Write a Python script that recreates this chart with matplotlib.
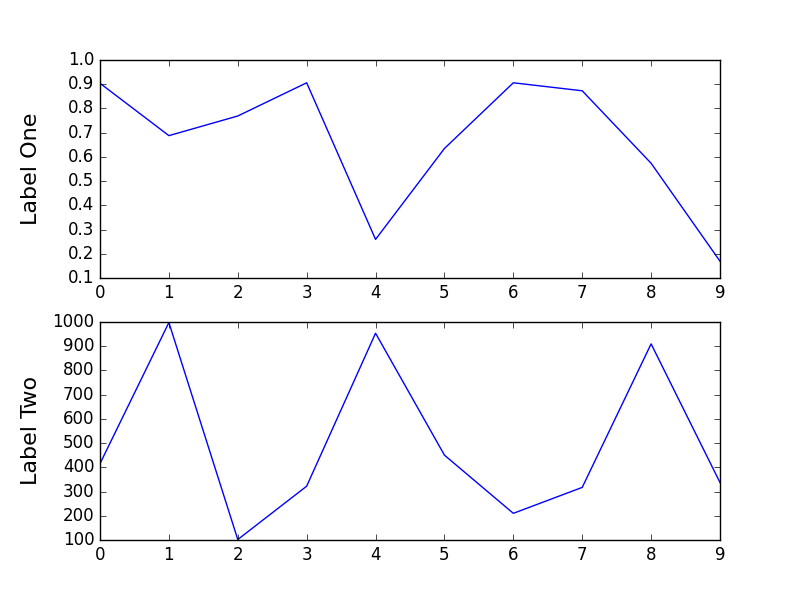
import matplotlib
matplotlib.use("Agg")
import matplotlib.pyplot as plt

plt.style.use("classic")

x = list(range(10))
series_one = [0.904, 0.688, 0.769, 0.906, 0.260, 0.635, 0.906, 0.873, 0.574, 0.170]
series_two = [415, 997, 102, 322, 953, 450, 210, 317, 909, 337]

fig, (ax1, ax2) = plt.subplots(2, 1, figsize=(8, 6), dpi=100)

ax1.plot(x, series_one, color="blue")
ax1.set_xlim(0, 9)
ax1.set_ylim(0.1, 1.0)
ax1.set_ylabel("Label One", fontsize=16)
ax1.yaxis.set_label_coords(-0.095, 0.5)

ax2.plot(x, series_two, color="blue")
ax2.set_xlim(0, 9)
ax2.set_ylim(100, 1000)
ax2.set_ylabel("Label Two", fontsize=16)
ax2.yaxis.set_label_coords(-0.095, 0.5)

fig.savefig("out.png", dpi=100, facecolor="white")
